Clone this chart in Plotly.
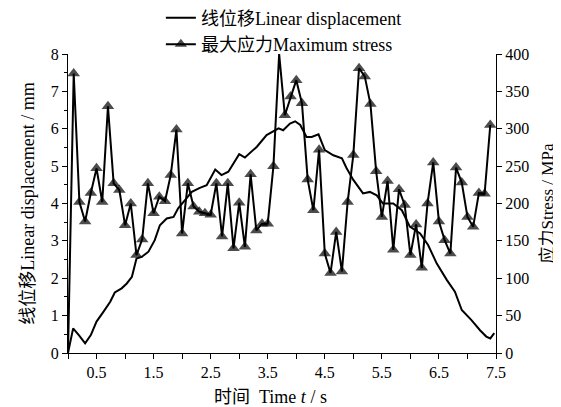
import plotly.graph_objects as go

# Linear displacement (mm) vs time (s)
disp_t = [0, 0.09, 0.19, 0.30, 0.40, 0.50, 0.62, 0.74, 0.82, 0.94, 1.03, 1.12, 1.20, 1.29,
          1.41, 1.52, 1.61, 1.73, 1.85, 1.93, 2.05, 2.17, 2.31, 2.43, 2.58, 2.69, 2.81, 3.00,
          3.10, 3.31, 3.48, 3.69, 3.77, 3.89, 3.98, 4.07, 4.18, 4.27, 4.39, 4.50, 4.65, 4.80,
          4.88, 5.00, 5.17, 5.29, 5.41, 5.52, 5.70, 5.85, 5.99, 6.17, 6.31, 6.46, 6.64, 6.78,
          6.90, 7.07, 7.22, 7.33, 7.40, 7.47]
disp_mm = [0, 0.66, 0.48, 0.26, 0.48, 0.84, 1.10, 1.37, 1.62, 1.73, 1.86, 2.04, 2.53, 2.57,
           2.71, 3.02, 3.42, 3.60, 3.64, 3.87, 4.09, 4.31, 4.42, 4.49, 4.91, 4.76, 4.85, 5.32,
           5.23, 5.52, 5.83, 6.01, 5.96, 6.14, 6.20, 6.10, 5.78, 5.78, 5.85, 5.43, 5.29, 5.21,
           4.95, 4.63, 4.27, 4.31, 4.22, 4.00, 4.00, 3.82, 3.38, 3.20, 2.89, 2.40, 1.95, 1.64,
           1.15, 0.88, 0.61, 0.44, 0.39, 0.53]

# Maximum stress (MPa), sampled every 0.1 s
stress_t = [round(0.1 * i, 1) for i in range(75)]
stress_mpa = [0, 374, 202, 176, 214, 247, 202, 330, 227, 218, 171, 200, 131, 152, 227, 187,
              209, 203, 238, 299, 160, 227, 196, 189, 187, 185, 227, 156, 227, 140, 201, 142,
              239, 164, 173, 173, 250, 400, 318, 343, 365, 334, 232, 191, 272, 133, 107, 162,
              109, 202, 265, 381, 370, 333, 243, 182, 230, 138, 219, 198, 131, 172, 114, 200,
              255, 176, 151, 133, 248, 228, 182, 169, 214, 213, 305]

x_tickvals = [0.5 * i for i in range(16)]
x_ticktext = ["" if i % 2 == 0 else f"{0.5 * i:g}" for i in range(16)]

marker_sizes = [0 if (i == 0 or v >= 400) else 11 for i, v in enumerate(stress_mpa)]

FONT = "Liberation Serif, 'Noto Sans CJK SC', serif"

fig = go.Figure()
fig.add_trace(go.Scatter(
    x=disp_t, y=disp_mm, mode="lines", name="线位移Linear displacement",
    legendgroup="a",
    line=dict(color="black", width=2), yaxis="y"))
fig.add_trace(go.Scatter(
    x=stress_t, y=stress_mpa, mode="lines+markers", name="最大应力Maximum stress",
    legendgroup="b",
    line=dict(color="black", width=2),
    marker=dict(symbol="triangle-up", size=marker_sizes, color="black",
                line=dict(width=0)),
    yaxis="y2"))

axis_common = dict(showline=True, linecolor="black", linewidth=1, ticks="outside",
                   ticklen=5, tickcolor="black", showgrid=False, zeroline=False,
                   automargin=False,
                   tickfont=dict(family=FONT, size=16, color="black"))

# page body has an 8px margin, so the figure is sized/offset to compensate
fig.update_layout(
    width=553, height=399,
    margin=dict(l=60, r=65, t=46, b=54, autoexpand=False),
    plot_bgcolor="white", paper_bgcolor="white",
    font=dict(family=FONT, size=16, color="black"),
    showlegend=True,
    legend=dict(x=0.217, y=1.182, xanchor="left", yanchor="top",
                bgcolor="rgba(0,0,0,0)", font=dict(family=FONT, size=18),
                tracegroupgap=0),
    xaxis=dict(range=[0, 7.5], tickvals=x_tickvals, ticktext=x_ticktext,
               **axis_common),
    yaxis=dict(range=[0, 8], dtick=1,
               minor=dict(dtick=0.5, ticks="outside", ticklen=3, tickcolor="black"),
               title=dict(text="线位移Linear displacement / mm", standoff=11,
                          font=dict(family=FONT, size=18)),
               **axis_common),
    yaxis2=dict(range=[0, 400], dtick=50, overlaying="y", side="right",
                title=dict(text="应力Stress / MPa", standoff=12,
                           font=dict(family=FONT, size=17)),
                **axis_common),
    annotations=[dict(text="时间  Time <i>t</i> / s", xref="paper", yref="paper",
                      x=0.472, y=-0.147, xanchor="center", yanchor="middle",
                      showarrow=False, font=dict(family=FONT, size=18))],
)

fig.write_html("out.html")
